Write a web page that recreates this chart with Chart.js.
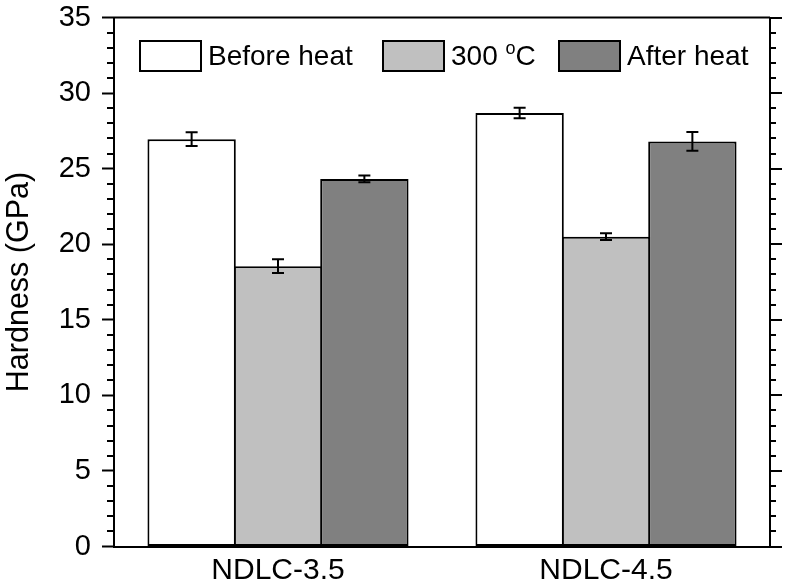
<!DOCTYPE html>
<html>
<head>
<meta charset="utf-8">
<script src="https://cdn.jsdelivr.net/npm/chart.js@4.4.1/dist/chart.umd.min.js"></script>
<style>
  html, body { margin: 0; padding: 0; background: #fff; }
  #wrap { width: 785px; height: 586px; }
</style>
</head>
<body>
<div id="wrap"><canvas id="c" width="785" height="586"></canvas></div>
<script>
// Hardness of the NDLC films before heating, at 300 °C and after heating
const categories = ['NDLC-3.5', 'NDLC-4.5'];
const seriesNames = ['Before heat', '300 °C', 'After heat'];
const beforeHeat = [26.95, 28.68];
const beforeHeatErr = [0.45, 0.35];
const at300C = [18.55, 20.5];
const at300CErr = [0.45, 0.22];
const afterHeat = [24.32, 26.8];
const afterHeatErr = [0.22, 0.62];
const yTicksMajor = [0, 5, 10, 15, 20, 25, 30, 35];

const FONT = "'Liberation Sans', Arial, sans-serif";
const fills = ['#ffffff', '#c0c0c0', '#808080'];

// error bars, placed through the value scale
const errorBars = {
  id: 'errorBars',
  afterDatasetsDraw(chart) {
    const ctx = chart.ctx;
    const y = chart.scales.y;
    ctx.save();
    ctx.strokeStyle = '#000';
    ctx.lineWidth = 2;
    chart.data.datasets.forEach((ds, di) => {
      const meta = chart.getDatasetMeta(di);
      meta.data.forEach((bar, i) => {
        const v = ds.data[i], e = ds.errors[i];
        const yt = y.getPixelForValue(v + e);
        const yb = y.getPixelForValue(v - e);
        const x = bar.x, cap = 6;
        ctx.beginPath();
        ctx.moveTo(x, yt); ctx.lineTo(x, yb);
        ctx.moveTo(x - cap, yt); ctx.lineTo(x + cap, yt);
        ctx.moveTo(x - cap, yb); ctx.lineTo(x + cap, yb);
        ctx.stroke();
      });
    });
    ctx.restore();
  }
};

// closed frame: top and right edges, minor ticks, mirrored ticks on the right
const frame = {
  id: 'frame',
  afterDraw(chart) {
    const ctx = chart.ctx;
    const a = chart.chartArea;
    const y = chart.scales.y;
    ctx.save();
    ctx.strokeStyle = '#000';
    ctx.lineWidth = 2;
    ctx.beginPath();
    ctx.moveTo(a.left - 1, a.top); ctx.lineTo(a.right, a.top);
    ctx.moveTo(a.right, a.top); ctx.lineTo(a.right, a.bottom);
    ctx.stroke();
    for (let v = y.min; v <= y.max; v += 1) {
      const p = Math.round(y.getPixelForValue(v));
      const major = v % 5 === 0;
      ctx.beginPath();
      ctx.moveTo(a.right, p); ctx.lineTo(a.right + (major ? 12 : 6), p);
      if (!major) { ctx.moveTo(a.left, p); ctx.lineTo(a.left - 7, p); }
      ctx.stroke();
    }
    ctx.restore();
  }
};

// legend inside the plot area
const legendOffsets = [26, 269, 445];
const insideLegend = {
  id: 'insideLegend',
  afterDraw(chart) {
    const ctx = chart.ctx;
    const a = chart.chartArea;
    const boxW = 61, boxH = 30, gap = 7;
    const size = 28;
    const yc = a.top + 38.5;
    ctx.save();
    ctx.textBaseline = 'middle';
    ctx.textAlign = 'left';
    chart.data.datasets.forEach((ds, di) => {
      const x = a.left + legendOffsets[di];
      ctx.fillStyle = ds.backgroundColor;
      ctx.fillRect(x, yc - boxH / 2, boxW, boxH);
      ctx.strokeStyle = '#000';
      ctx.lineWidth = 2;
      ctx.strokeRect(x, yc - boxH / 2, boxW, boxH);
      let tx = x + boxW + gap;
      ctx.fillStyle = '#000';
      const parts = ds.label.split('°');
      parts.forEach((part, k) => {
        ctx.font = size + 'px ' + FONT;
        ctx.fillText(part, tx, yc + 1);
        tx += ctx.measureText(part).width;
        if (k < parts.length - 1) {
          ctx.font = Math.round(size * 0.66) + 'px ' + FONT;
          ctx.fillText('o', tx, yc - 7);
          tx += ctx.measureText('o').width;
        }
      });
    });
    ctx.restore();
  }
};

const makeSet = (label, data, errors, fill) => ({
  label, data, errors,
  backgroundColor: fill,
  borderColor: '#000',
  borderWidth: 2,
  borderSkipped: false,
  categoryPercentage: 0.79,
  barPercentage: 1.023
});

new Chart(document.getElementById('c'), {
  type: 'bar',
  data: {
    labels: categories,
    datasets: [
      makeSet(seriesNames[0], beforeHeat, beforeHeatErr, fills[0]),
      makeSet(seriesNames[1], at300C, at300CErr, fills[1]),
      makeSet(seriesNames[2], afterHeat, afterHeatErr, fills[2])
    ]
  },
  options: {
    responsive: false,
    animation: false,
    events: [],
    layout: { padding: { top: 17.5, right: 15, left: 0, bottom: 0 } },
    plugins: { legend: { display: false }, tooltip: { enabled: false } },
    scales: {
      x: {
        grid: { display: false, drawTicks: false, tickLength: 0 },
        border: { display: true, color: '#000', width: 2 },
        ticks: { color: '#000', padding: 6, font: { family: FONT, size: 30 } },
        afterFit(s) { s.height = 39.5; s.paddingLeft = 0; s.paddingRight = 0; }
      },
      y: {
        min: 0,
        max: 35,
        afterBuildTicks(s) { s.ticks = yTicksMajor.map(v => ({ value: v })); },
        ticks: { color: '#000', padding: 11, font: { family: FONT, size: 29 } },
        grid: { drawOnChartArea: false, drawTicks: true, tickLength: 12, tickWidth: 2, tickColor: '#000' },
        border: { display: true, color: '#000', width: 2 },
        title: {
          display: true,
          text: 'Hardness (GPa)',
          color: '#000',
          font: { family: FONT, size: 30.5 },
          padding: { top: 1, bottom: 0 }
        },
        afterFit(s) { s.width = 114; s.paddingTop = 0; s.paddingBottom = 0; }
      }
    }
  },
  plugins: [errorBars, frame, insideLegend]
});
</script>
</body>
</html>
